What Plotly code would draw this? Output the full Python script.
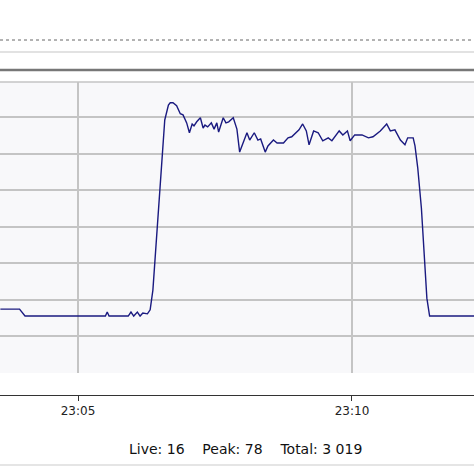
import plotly.graph_objects as go

# thread count samples (time, live threads)
times = [
    "23:03:35", "23:03:56", "23:04:02", "23:05:30", "23:05:32", "23:05:34", "23:05:55",
    "23:05:58", "23:06:01", "23:06:05", "23:06:08", "23:06:11", "23:06:16", "23:06:19",
    "23:06:22", "23:06:25", "23:06:29", "23:06:32", "23:06:35", "23:06:39", "23:06:41",
    "23:06:44", "23:06:48", "23:06:52", "23:06:55", "23:06:59", "23:07:02", "23:07:05",
    "23:07:07", "23:07:10", "23:07:14", "23:07:17", "23:07:19", "23:07:22", "23:07:26",
    "23:07:29", "23:07:32", "23:07:34", "23:07:39", "23:07:42", "23:07:45", "23:07:50",
    "23:07:54", "23:07:57", "23:08:01", "23:08:05", "23:08:08", "23:08:13", "23:08:17",
    "23:08:20", "23:08:25", "23:08:28", "23:08:34", "23:08:38", "23:08:45", "23:08:50",
    "23:08:54", "23:08:58", "23:09:02", "23:09:06", "23:09:10", "23:09:13", "23:09:18",
    "23:09:23", "23:09:28", "23:09:34", "23:09:38", "23:09:46", "23:09:50", "23:09:55",
    "23:09:58", "23:10:03", "23:10:11", "23:10:18", "23:10:23", "23:10:31", "23:10:38",
    "23:10:42", "23:10:47", "23:10:53", "23:10:58", "23:11:01", "23:11:07", "23:11:09",
    "23:11:12", "23:11:16", "23:11:19", "23:11:22", "23:11:25", "23:12:14",
]
live = [
    17.5, 17.5, 15.6, 15.6, 16.7, 15.6, 15.6,
    16.7, 15.6, 16.7, 15.6, 16.4, 16.2, 17.3,
    22.7, 33.7, 47.4, 61.1, 69.3, 73.4, 74.0,
    74.0, 73.2, 71.0, 70.7, 68.5, 65.8, 68.2,
    67.7, 68.8, 69.9, 67.1, 67.9, 67.4, 68.5,
    66.8, 68.5, 66.0, 69.9, 68.5, 68.8, 69.9,
    66.8, 60.5, 63.0, 65.8, 63.8, 65.8, 63.8,
    64.1, 60.5, 62.2, 63.8, 63.0, 63.0, 64.4,
    64.7, 65.8, 66.6, 68.2, 66.3, 62.5, 66.3,
    65.8, 63.6, 64.4, 63.6, 66.3, 65.2, 66.3,
    63.6, 65.2, 65.2, 64.4, 64.7, 66.3, 68.2,
    66.3, 66.6, 63.8, 62.5, 64.4, 64.4, 62.2,
    56.2, 45.2, 31.5, 20.5, 15.6, 15.6,
]
tick_times = ["23:05:00", "23:10:00"]
stats_text = "Live: 16    Peak: 78    Total: 3 019"

day = "2024-01-01 "
x = [day + t for t in times]
ticks = [day + t for t in tick_times]
xrange = [day + "23:03:34.6", day + "23:12:13.6"]

H = 474.0
def py(p):
    return 1 - p / H

fig = go.Figure()
fig.add_trace(go.Scatter(x=x, y=live, mode="lines",
                         line=dict(color="#1a1a80", width=1.4), hoverinfo="skip"))
# invisible trace so the separate time axis is drawn
fig.add_trace(go.Scatter(x=xrange, y=[None, None], xaxis="x2", yaxis="y",
                         mode="lines", showlegend=False))

fig.update_layout(
    width=474, height=474,
    margin=dict(l=0, r=0, t=0, b=0),
    paper_bgcolor="white", plot_bgcolor="#f8f8fa",
    showlegend=False,
    font=dict(family="DejaVu Sans", size=11, color="#222"),
    xaxis=dict(type="date", range=xrange, tickvals=ticks, showticklabels=False,
               showgrid=True, gridcolor="#c4c4c4", gridwidth=1.5, zeroline=False,
               domain=[0, 1]),
    xaxis2=dict(type="date", range=xrange, tickvals=ticks, tickformat="%H:%M",
                overlaying="x", anchor="free", position=py(395), showline=True,
                linecolor="#333", linewidth=1, ticks="outside", ticklen=5,
                tickcolor="#333", showgrid=False, side="bottom",
                tickfont=dict(size=12, color="#222")),
    yaxis=dict(range=[0, 79.7], domain=[py(373), py(82)], dtick=10,
               showticklabels=False, showgrid=True, gridcolor="#c4c4c4",
               gridwidth=1.5, zeroline=False, fixedrange=True),
    shapes=[
        dict(type="line", xref="paper", yref="paper", x0=0, x1=1, y0=py(40), y1=py(40),
             line=dict(color="#666", width=1, dash="dot")),
        dict(type="line", xref="paper", yref="paper", x0=0, x1=1, y0=py(52), y1=py(52),
             line=dict(color="#d8d8d8", width=1.5)),
        dict(type="line", xref="paper", yref="paper", x0=0, x1=1, y0=py(70), y1=py(70),
             line=dict(color="#777", width=2.5)),
        dict(type="line", xref="paper", yref="paper", x0=0, x1=1, y0=py(82), y1=py(82),
             line=dict(color="#c4c4c4", width=1.5)),
        dict(type="line", xref="paper", yref="paper", x0=0, x1=1, y0=py(465), y1=py(465),
             line=dict(color="#dcdcdc", width=1.5)),
    ],
    annotations=[
        dict(text=stats_text, xref="paper", yref="paper", x=245 / 474, y=py(449),
             showarrow=False, xanchor="center", yanchor="middle",
             font=dict(size=14, color="#111")),
    ],
)

fig.write_html("out.html", config={"displayModeBar": False},
               post_script="document.body.style.margin='0';")
